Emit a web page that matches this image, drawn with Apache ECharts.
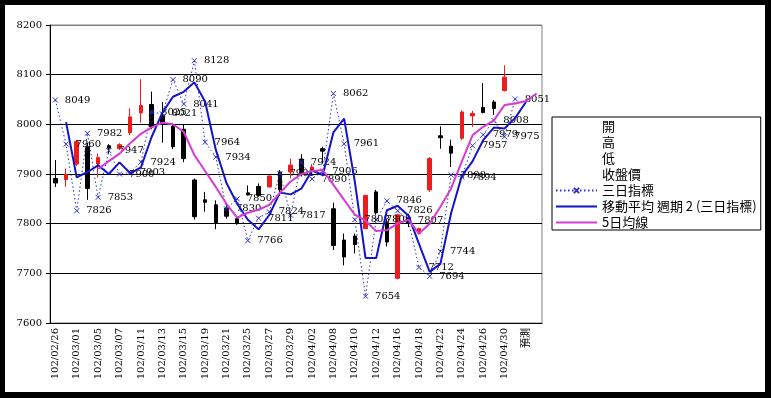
<!DOCTYPE html>
<html>
<head>
<meta charset="utf-8">
<script src="https://cdn.jsdelivr.net/npm/echarts@6/dist/echarts.min.js"></script>
<style>
  html, body { margin: 0; padding: 0; background: #000; }
  #chart { position: absolute; left: 5px; top: 5px; width: 760px; height: 387px; background: #fff; }
</style>
</head>
<body>
<div id="chart"></div>
<script>
// trading days (102 = ROC year), plus the forecast slot
const dates = ['102/02/26','102/02/27','102/03/01','102/03/04','102/03/05','102/03/06','102/03/07','102/03/08',
  '102/03/11','102/03/12','102/03/13','102/03/14','102/03/15','102/03/18','102/03/19','102/03/20','102/03/21',
  '102/03/22','102/03/25','102/03/26','102/03/27','102/03/28','102/03/29','102/04/01','102/04/02','102/04/03',
  '102/04/08','102/04/09','102/04/10','102/04/11','102/04/12','102/04/15','102/04/16','102/04/17','102/04/18',
  '102/04/19','102/04/22','102/04/23','102/04/24','102/04/25','102/04/26','102/04/29','102/04/30','102/05/02',
  '預測',''];

// 開 / 高 / 低 / 收盤價
const openVals  = [7891,7889,7920,7955,7920,7957,7951,7983,8023,8040,8018,7996,7990,7888,7848,7838,7831,7810,7862,7875,7874,7904,7904,7930,7905,7951,7830,7767,7775,7790,7864,7802,7690,7812,7780,7868,7977,7956,7972,8017,8034,8045,8068];
const highVals  = [7928,7911,7968,7962,7941,7960,7962,8032,8091,8066,8045,8001,7999,7891,7864,7847,7842,7812,7877,7881,7897,7908,7931,7940,7920,7955,7842,7780,7780,7858,7868,7809,7820,7820,7792,7934,7996,7969,8028,8027,8083,8049,8119];
const lowVals   = [7874,7874,7916,7848,7893,7940,7948,7978,8003,7990,7963,7950,7924,7808,7824,7789,7810,7798,7857,7854,7873,7856,7891,7895,7901,7921,7747,7716,7740,7789,7818,7754,7688,7793,7778,7864,7951,7914,7968,7995,8022,8019,8066];
const closeVals = [7882,7899,7965,7871,7933,7952,7959,8015,8038,7995,8004,7955,7931,7814,7843,7802,7815,7800,7858,7857,7896,7868,7918,7902,7914,7946,7756,7733,7758,7857,7822,7763,7818,7802,7790,7931,7973,7942,8025,8022,8024,8032,8095];

// 三日指標
const threeDay = [8049,7960,7826,7982,7853,7947,7900,7903,7924,8025,8021,8090,8041,8128,7964,7934,7830,7850,7766,7811,
  7824,7901,7817,7924,7890,7906,8062,7961,7808,7654,7808,7846,7826,7807,7712,7694,7744,7898,7894,7957,7979,8008,7975,8051];

// 移動平均 週期 2 (三日指標)
const movAvg2 = [null,8004.5,7893,7904,7917.5,7900,7923.5,7901.5,7913.5,7974.5,8023,8055.5,8065.5,8084.5,8046,7949,7882,7840,7808,7788.5,
  7817.5,7862.5,7859,7870.5,7907,7898,7984,8011.5,7884.5,7731,7731,7827,7836,7816.5,7759.5,7703,7719,7821,7896,7925.5,7968,7993.5,7991.5,8013,8045];

// 5日均線
const ma5 = [null,null,null,null,7910,7926,7941,7962,7981,7994,8003,8000,7985,7938,7906,7874,7840,7812,7822,7828,
  7838,7862,7885,7900,7906,7908,7878,7848,7818,7806,7785,7787,7800,7808,7780,7800,7834,7871,7925,7978,7995,8008,8039,8042,8047,8062];

const yTicks = { min: 7600, max: 8200, step: 100 };

const numFont = 'DejaVu Serif';
const cjkFont = 'Noto Sans CJK TC';

// small x, padded with move-to points so the legend copy stays small too
const crossMark = 'path://M-5,-5M0,0L10,10M10,0L0,10M15,15';

const candles = openVals.map((o, i) => [o, closeVals[i], lowVals[i], highVals[i]]);
const hideSymbol = { color: 'rgba(0,0,0,0)', borderWidth: 0 };

const chart = echarts.init(document.getElementById('chart'));
chart.setOption({
  animation: false,
  backgroundColor: '#fff',
  grid: { left: 45, top: 20, right: 223, bottom: 69, show: true, borderColor: '#808080', borderWidth: 1 },
  legend: {
    orient: 'vertical',
    left: 547, top: 112,
    padding: [3, 4, 1, 3],
    itemWidth: 41, itemHeight: 13, itemGap: 3,
    borderColor: '#000', borderWidth: 1,
    textStyle: { fontFamily: cjkFont, fontSize: 13, color: '#000' },
    data: [
      { name: '開', icon: 'none' },
      { name: '高', icon: 'none' },
      { name: '低', icon: 'none' },
      { name: '收盤價', icon: 'none' },
      '三日指標',
      { name: '移動平均 週期 2 (三日指標)', itemStyle: hideSymbol },
      { name: '5日均線', itemStyle: hideSymbol }
    ]
  },
  xAxis: {
    type: 'category',
    data: dates,
    boundaryGap: true,
    axisLine: { lineStyle: { color: '#000' } },
    axisTick: { interval: 1, length: 4, lineStyle: { color: '#000' } },
    axisLabel: { interval: 1, rotate: 90, margin: 5, color: '#000', fontSize: 10, fontFamily: numFont + ', ' + cjkFont }
  },
  yAxis: {
    type: 'value',
    min: yTicks.min, max: yTicks.max, interval: yTicks.step,
    axisLine: { show: true, lineStyle: { color: '#000' } },
    axisTick: { show: true, length: 4, lineStyle: { color: '#000' } },
    axisLabel: { margin: 8, color: '#000', fontSize: 10, fontFamily: numFont, formatter: v => String(v) },
    splitLine: { lineStyle: { color: ['#000', '#000', '#000', '#000', '#000', '#000', '#808080'] } }
  },
  series: [
    { name: '開', type: 'scatter', data: [] },
    { name: '高', type: 'scatter', data: [] },
    { name: '低', type: 'scatter', data: [] },
    {
      name: '收盤價',
      type: 'candlestick',
      data: candles,
      barWidth: 4,
      itemStyle: { color: '#ee1c1c', color0: '#000', borderColor: '#ee1c1c', borderColor0: '#000', borderWidth: 1 }
    },
    {
      name: '三日指標',
      type: 'line',
      data: threeDay,
      symbol: crossMark,
      symbolSize: 10,
      showAllSymbol: true,
      lineStyle: { color: '#2f2fd0', width: 1, type: [1.5, 2.5] },
      itemStyle: { color: '#2f2fd0', borderColor: '#2f2fd0', borderWidth: 1 },
      label: { show: true, position: 'right', distance: 4, color: '#000', fontSize: 10, fontFamily: numFont },
      z: 3
    },
    {
      name: '移動平均 週期 2 (三日指標)',
      type: 'line',
      data: movAvg2,
      symbol: 'none',
      lineStyle: { color: '#1414c8', width: 2 },
      itemStyle: { color: '#1414c8' },
      z: 4
    },
    {
      name: '5日均線',
      type: 'line',
      data: ma5,
      symbol: 'none',
      lineStyle: { color: '#d43cd4', width: 2 },
      itemStyle: { color: '#d43cd4' },
      z: 5
    }
  ]
});
</script>
</body>
</html>
